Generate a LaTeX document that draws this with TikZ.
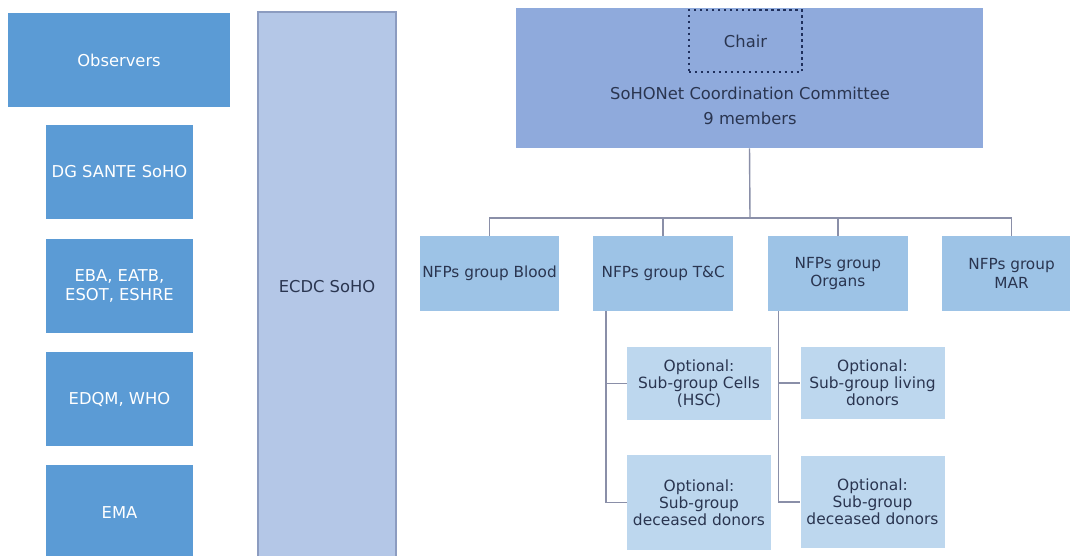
\documentclass[tikz,border=0pt]{standalone}
\usepackage{fontspec}
\setmainfont{DejaVu Sans}
\usetikzlibrary{positioning,calc}

\definecolor{obsblue}{HTML}{5B9BD5}
\definecolor{ecdcfill}{HTML}{B4C7E7}
\definecolor{ecdcline}{HTML}{8C9CC0}
\definecolor{commfill}{HTML}{8FAADC}
\definecolor{grpfill}{HTML}{9DC3E6}
\definecolor{subfill}{HTML}{BDD7EE}
\definecolor{darktext}{HTML}{2A3550}
\definecolor{chairline}{HTML}{1F2F5C}
\definecolor{connline}{HTML}{8A8FA8}

\tikzset{
  obsbox/.style={rectangle,fill=obsblue,text=white,inner sep=0pt,align=center,
    minimum width=2.94cm,minimum height=1.88cm,font=\fontsize{9.3}{11}\selectfont},
  grpbox/.style={rectangle,fill=grpfill,text=darktext,inner sep=0pt,align=center,
    minimum width=2.8cm,minimum height=1.5cm,font=\fontsize{8.7}{10.8}\selectfont},
  subbox/.style={rectangle,fill=subfill,text=darktext,inner sep=0pt,align=center,
    minimum width=2.88cm,font=\fontsize{8.8}{9.8}\selectfont},
  conn/.style={draw=connline,line width=0.8pt},
}

\begin{document}
\begin{tikzpicture}[x=0.02cm,y=-0.02cm]
        \useasboundingbox (0,0) rectangle (1070,555);
        \fill[white] (0,0) rectangle (1070,555);

        % observers column
        \node[obsbox,minimum width=4.44cm] (obs) at (119,60) {Observers};
        \node[obsbox] (dgs) at (119.5,172) {DG SANTE SoHO};
        \node[obsbox,below=0.38cm of dgs] (eba) {EBA, EATB,\\ESOT, ESHRE};
        \node[obsbox,below=0.38cm of eba] (edqm) {EDQM, WHO};
        \node[obsbox,below=0.36cm of edqm] (ema) {EMA};

        \node[rectangle,fill=ecdcfill,draw=ecdcline,line width=0.8pt,text=darktext,
              minimum width=2.76cm,minimum height=11cm,
              font=\fontsize{9.3}{11}\selectfont] (ecdc) at (327,287) {ECDC SoHO};

        % committee
        \node[rectangle,fill=commfill,minimum width=9.34cm,minimum height=2.8cm] (comm) at (749.5,78) {};
        \node[rectangle,draw=chairline,dotted,line width=1.4pt,text=darktext,
              minimum width=2.26cm,minimum height=1.24cm,
              font=\fontsize{9.3}{11}\selectfont] (chair) at (745.5,41) {Chair};
        \node[text=darktext,align=center,inner sep=0pt,
              font=\fontsize{9.3}{14.2}\selectfont] (commtxt) at (750,106) {SoHONet Coordination Committee\\9 members};

        % NFP groups
        \node[grpbox] (blood) at (489.5,273.5) {NFPs group Blood};
        \node[grpbox,right=0.66cm of blood] (tc) {NFPs group T\&C};
        \node[grpbox,right=0.68cm of tc] (organs) {NFPs group\\Organs};
        \node[grpbox,right=0.66cm of organs] (mar) {NFPs group\\MAR};

        \coordinate (bar) at (750,218);
        \draw[conn] (comm.south) -- (bar);
        \foreach \g in {blood,tc,organs,mar}{
                \draw[conn] (bar) -| (\g.north);
        }

        % optional sub-groups
        \node[subbox,minimum height=1.46cm] (cells) at (699,383.5) {Optional:\\Sub-group Cells\\(HSC)};
        \node[subbox,minimum height=1.9cm] (tcdec) at (699,502.5) {Optional:\\Sub-group\\deceased donors};
        \node[subbox,minimum height=1.44cm] (living) at (872.5,383) {Optional:\\Sub-group living\\donors};
        \node[subbox,minimum height=1.84cm] (orgdec) at (872.5,502) {Optional:\\Sub-group\\deceased donors};

        \draw[conn] ($(tc.south west)+(13,0)$) |- (tcdec.west);
        \draw[conn] ($(tc.south west)+(13,0)$) |- (cells.west);
        \draw[conn] ($(organs.south west)+(11,0)$) |- (orgdec.west);
        \draw[conn] ($(organs.south west)+(11,0)$) |- (living.west);
\end{tikzpicture}
\end{document}
